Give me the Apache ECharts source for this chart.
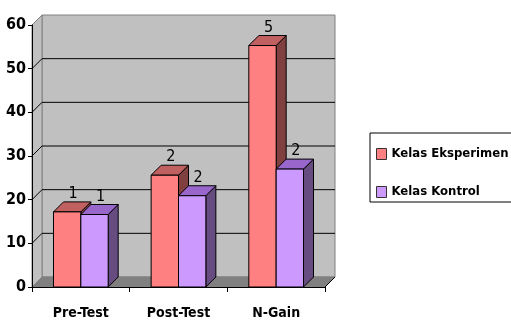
<!DOCTYPE html>
<html>
<head>
<meta charset="utf-8">
<script src="https://cdn.jsdelivr.net/npm/echarts@6.0.0/dist/echarts.min.js"></script>
<style>
  html, body { margin: 0; padding: 0; background: #ffffff; }
  #chart { width: 511px; height: 322px; }
</style>
</head>
<body>
<div id="chart"></div>
<script>
// Categories, series values and axis ticks
const categories = ['Pre-Test', 'Post-Test', 'N-Gain'];
const seriesNames = ['Kelas Eksperimen', 'Kelas Kontrol'];
const eksperimen = [17.2, 25.6, 55.3];
const kontrol = [16.6, 20.9, 27.0];
const yTicks = [0, 10, 20, 30, 40, 50, 60];

// Depth of the pseudo-3D box (pixels right / up)
const DX = 10, DY = -10;
const BAR_FRAC = 0.28;
const FONT = "'Liberation Sans Narrow', 'DejaVu Sans Condensed', Arial, sans-serif";
const faces = [
  { front: '#FF8080', top: '#C06060', side: '#804040' },
  { front: '#CC99FF', top: '#9966CC', side: '#664C80' }
];

// Back wall, side wall, floor and gridlines of the 3D box
function wallsRender(params, api) {
  const cs = params.coordSys;
  const x0 = cs.x, x1 = cs.x + cs.width;
  const yTop = api.coord([0, yTicks[yTicks.length - 1]])[1];
  const yBot = api.coord([0, yTicks[0]])[1];
  const children = [];
  children.push({ type: 'rect',
    shape: { x: x0 + DX, y: yTop + DY, width: x1 - x0, height: yBot - yTop },
    style: { fill: '#C0C0C0', stroke: '#808080', lineWidth: 1 } });
  children.push({ type: 'polygon',
    shape: { points: [[x0, yTop], [x0 + DX, yTop + DY], [x0 + DX, yBot + DY], [x0, yBot]] },
    style: { fill: '#C0C0C0', stroke: '#808080', lineWidth: 1 } });
  children.push({ type: 'polygon',
    shape: { points: [[x0, yBot], [x0 + DX, yBot + DY], [x1 + DX, yBot + DY], [x1, yBot]] },
    style: { fill: '#808080', stroke: '#808080', lineWidth: 1 } });
  yTicks.slice(1, -1).forEach(function (v) {
    const y = api.coord([0, v])[1];
    children.push({ type: 'polyline',
      shape: { points: [[x0, y], [x0 + DX, y + DY], [x1 + DX, y + DY]] },
      style: { stroke: '#000000', lineWidth: 1, fill: null } });
  });
  children.push({ type: 'line',
    shape: { x1: x1, y1: yBot, x2: x1 + DX, y2: yBot + DY },
    style: { stroke: '#000000', lineWidth: 1 } });
  return { type: 'group', children: children };
}

// One 3D column: side face, top face, front face and value label
function barRender(si) {
  return function (params, api) {
    const idx = api.value(0), val = api.value(1);
    const c = api.coord([idx, val]);
    const base = api.coord([idx, 0]);
    const band = api.size([1, 0])[0];
    const w = band * BAR_FRAC;
    const xL = si === 0 ? c[0] - w : c[0];
    const xR = xL + w;
    const yT = c[1], yB = base[1];
    const f = faces[si];
    const st = { stroke: '#000000', lineWidth: 1, lineJoin: 'round' };
    return { type: 'group', children: [
      { type: 'polygon',
        shape: { points: [[xR, yT], [xR + DX, yT + DY], [xR + DX, yB + DY], [xR, yB]] },
        style: Object.assign({ fill: f.side }, st) },
      { type: 'polygon',
        shape: { points: [[xL, yT], [xL + DX, yT + DY], [xR + DX, yT + DY], [xR, yT]] },
        style: Object.assign({ fill: f.top }, st) },
      { type: 'rect',
        shape: { x: xL, y: yT, width: w, height: yB - yT },
        style: Object.assign({ fill: f.front }, st) },
      { type: 'text',
        x: (xL + xR) / 2 + DX / 2 + 1,
        y: yT + DY - 8,
        style: { text: String(val), fill: '#000000', font: '16px ' + FONT,
                 align: 'center', verticalAlign: 'middle',
                 width: 13, overflow: 'truncate', ellipsis: '' } }
    ] };
  };
}

const chart = echarts.init(document.getElementById('chart'), null, { renderer: 'canvas' });
chart.setOption({
  animation: false,
  backgroundColor: '#ffffff',
  grid: { left: 32, right: 186, top: 25, bottom: 35 },
  legend: {
    orient: 'vertical', left: 370, top: 133,
    data: seriesNames.map(function (n) { return { name: n, icon: 'rect' }; }),
    itemWidth: 10, itemHeight: 11, itemGap: 20, itemTextGap: 6,
    padding: [12, 14, 1, 6],
    borderColor: '#000000', borderWidth: 1,
    itemStyle: { borderColor: '#333333', borderWidth: 1 },
    textStyle: { fontFamily: FONT, fontWeight: 'bold', fontSize: 13, color: '#000000', lineHeight: 18 }
  },
  xAxis: {
    type: 'category', data: categories, boundaryGap: true, z: 5,
    axisLine: { show: true, lineStyle: { color: '#000000', width: 1 } },
    axisTick: { show: true, length: 5, lineStyle: { color: '#000000' } },
    axisLabel: { color: '#000000', fontWeight: 'bold', fontSize: 14, fontFamily: FONT, margin: 19 },
    splitLine: { show: false }
  },
  yAxis: {
    type: 'value', min: 0, max: 60, interval: 10, z: 5,
    axisLine: { show: true, lineStyle: { color: '#000000', width: 1 } },
    axisTick: { show: true, length: 4, lineStyle: { color: '#000000' } },
    axisLabel: { color: '#000000', fontWeight: 'bold', fontSize: 16, fontFamily: FONT, margin: 6 },
    splitLine: { show: false }
  },
  series: [
    { type: 'custom', name: 'walls', silent: true, z: 1,
      renderItem: wallsRender, data: [[0, 0]], encode: { x: 0, y: 1 } },
    { type: 'custom', name: seriesNames[0], z: 2, renderItem: barRender(0),
      itemStyle: { color: faces[0].front },
      encode: { x: 0, y: 1 },
      data: eksperimen.map(function (v, i) { return [i, v]; }) },
    { type: 'custom', name: seriesNames[1], z: 3, renderItem: barRender(1),
      itemStyle: { color: faces[1].front },
      encode: { x: 0, y: 1 },
      data: kontrol.map(function (v, i) { return [i, v]; }) }
  ]
});
</script>
</body>
</html>
